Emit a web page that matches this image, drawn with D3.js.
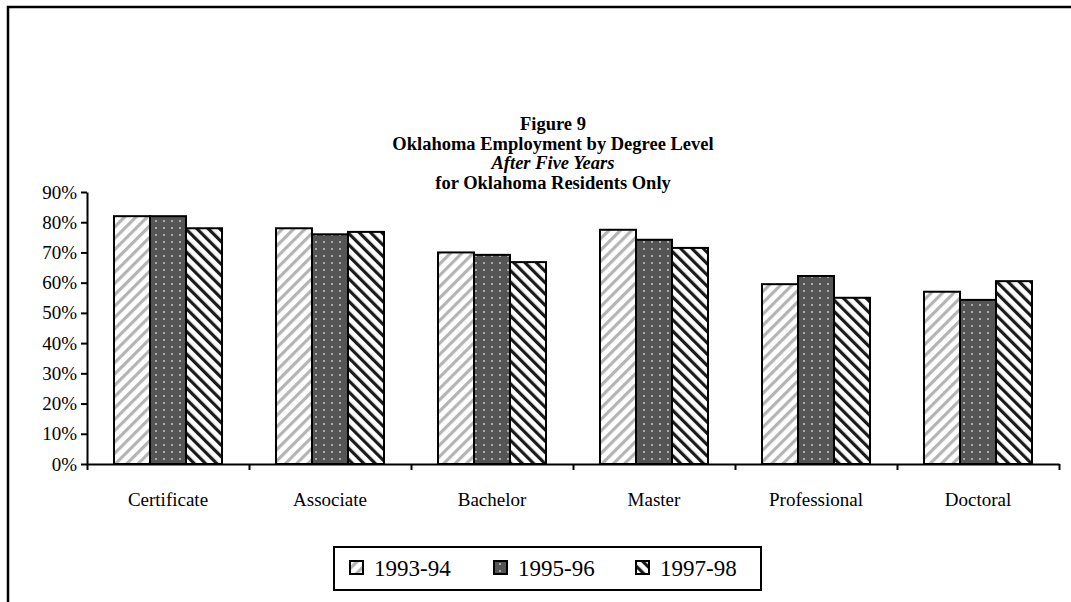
<!DOCTYPE html>
<html><head><meta charset="utf-8">
<script src="https://cdn.jsdelivr.net/npm/d3@7"></script>
<style>body{margin:0;background:#fff}svg{display:block}</style>
</head><body>
<svg id="c" width="1071" height="602"></svg>
<script>
const categories = ["Certificate","Associate","Bachelor","Master","Professional","Doctoral"];
const seriesNames = ["1993-94","1995-96","1997-98"];
const s1993 = [0.82,0.78,0.70,0.775,0.595,0.57];
const s1995 = [0.82,0.76,0.692,0.742,0.622,0.543];
const s1997 = [0.78,0.768,0.668,0.715,0.55,0.605];
const yTicks = [0,0.1,0.2,0.3,0.4,0.5,0.6,0.7,0.8,0.9];
const titleLines = [
  {t:"Figure 9", italic:false},
  {t:"Oklahoma Employment by Degree Level", italic:false},
  {t:"After Five Years", italic:true},
  {t:"for Oklahoma Residents Only", italic:false}
];
const series = [s1993, s1995, s1997];
const FONT = '"Liberation Serif", "Times New Roman", serif';

const svg = d3.select("#c");
const defs = svg.append("defs");
const p1 = defs.append("pattern").attr("id","p0").attr("patternUnits","userSpaceOnUse")
  .attr("width",8).attr("height",8).attr("patternTransform","rotate(45)");
p1.append("rect").attr("width",8).attr("height",8).attr("fill","#fff");
p1.append("rect").attr("x",0).attr("width",3.2).attr("height",8).attr("fill","#b4b4b4");
const p2 = defs.append("pattern").attr("id","p1").attr("patternUnits","userSpaceOnUse")
  .attr("width",8).attr("height",7);
p2.append("rect").attr("width",8).attr("height",7).attr("fill","#555");
p2.append("rect").attr("x",3).attr("y",3).attr("width",2).attr("height",2).attr("fill","#aaa");
const p3 = defs.append("pattern").attr("id","p2").attr("patternUnits","userSpaceOnUse")
  .attr("width",8).attr("height",8).attr("patternTransform","rotate(-45)");
p3.append("rect").attr("width",8).attr("height",8).attr("fill","#fff");
p3.append("rect").attr("x",0).attr("width",3.2).attr("height",8).attr("fill","#1a1a1a");

svg.append("path").attr("d","M8,602V7H1071").attr("fill","none").attr("stroke","#000").attr("stroke-width",2.5);

titleLines.forEach((l,i)=>{
  svg.append("text").attr("x",553).attr("y",130+i*19.5).attr("text-anchor","middle")
    .style("font-family",FONT).style("font-size","18.5px").style("font-weight","bold")
    .style("font-style",l.italic?"italic":"normal").text(l.t);
});

const x0 = 87, x1 = 1059, yBase = 464, yTop = 192;
const x = d3.scaleBand().domain(categories).range([x0,x1]).paddingInner(0).paddingOuter(0);
const y = d3.scaleLinear().domain([0,0.9]).range([yBase,yTop]);
const xs = d3.scaleBand().domain(d3.range(3)).range([0,x.bandwidth()]).paddingInner(0).paddingOuter(0.75);

categories.forEach((c,i)=>{
  series.forEach((s,j)=>{
    svg.append("rect").attr("x",x(c)+xs(j)).attr("y",y(s[i])).attr("width",xs.bandwidth()).attr("height",yBase-y(s[i]))
      .attr("fill",`url(#p${j})`).attr("stroke","#000").attr("stroke-width",2);
  });
});

const ya = svg.append("g").attr("transform",`translate(${x0},0)`)
  .call(d3.axisLeft(y).tickValues(yTicks).tickFormat(d3.format(".0%")).tickSize(6).tickSizeOuter(0).tickPadding(4));
ya.attr("font-family",null);
ya.select(".domain").attr("stroke-width",2);
ya.selectAll(".tick line").attr("stroke-width",2);
ya.selectAll(".tick text").style("font-size","19px").style("font-family",FONT).attr("fill","#000");

const xb = d3.scaleLinear().domain([0,categories.length]).range([x0,x1]);
const xa = svg.append("g").attr("transform",`translate(0,${yBase})`)
  .call(d3.axisBottom(xb).tickValues(d3.range(categories.length+1)).tickFormat("").tickSize(6).tickSizeOuter(0));
xa.select(".domain").attr("stroke-width",2);
xa.selectAll(".tick line").attr("stroke-width",2);
categories.forEach(c=>{
  svg.append("text").attr("x",x(c)+x.bandwidth()/2).attr("y",506).attr("text-anchor","middle")
    .style("font-family",FONT).style("font-size","19px").text(c);
});

svg.append("rect").attr("x",334).attr("y",547).attr("width",427).attr("height",43)
  .attr("fill","#fff").attr("stroke","#000").attr("stroke-width",2);
const legX = [350,494,636];
seriesNames.forEach((n,j)=>{
  svg.append("rect").attr("x",legX[j]).attr("y",561).attr("width",13).attr("height",13)
    .attr("fill",`url(#p${j})`).attr("stroke","#000").attr("stroke-width",2);
  svg.append("text").attr("x",legX[j]+24).attr("y",576).style("font-family",FONT).style("font-size","23px").text(n);
});
</script>
</body></html>
